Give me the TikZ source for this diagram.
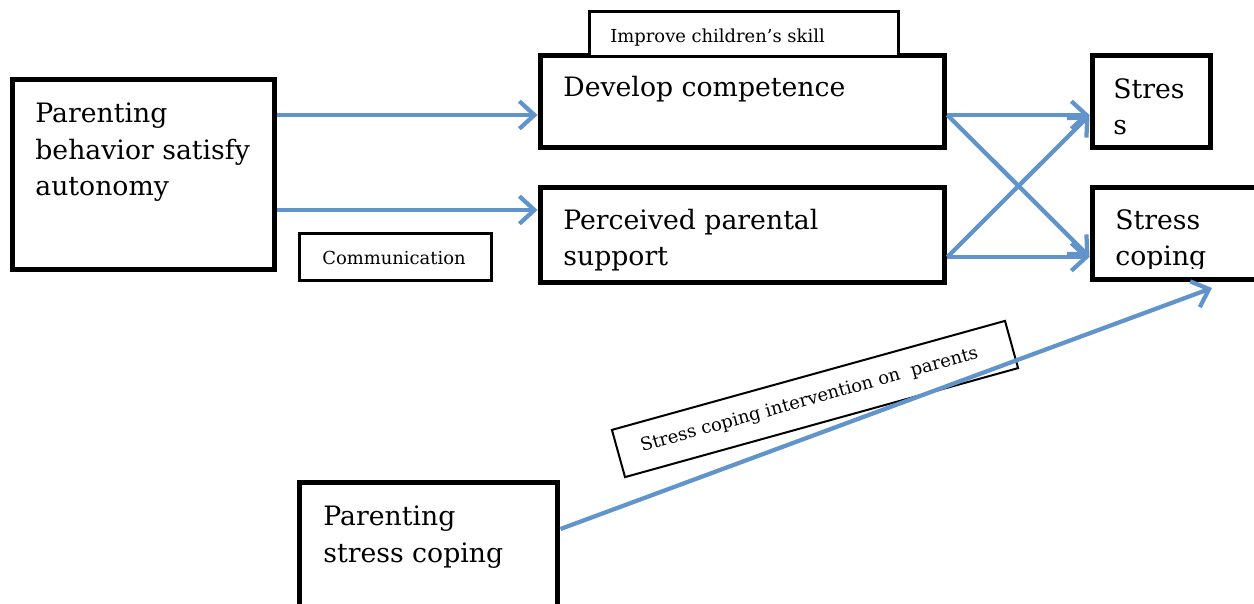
\documentclass[tikz,border=0pt]{standalone}
\usepackage{fontspec}
\setmainfont{DejaVu Serif}
\usetikzlibrary{arrows.meta}
\definecolor{arrowblue}{RGB}{98,148,204}
\newcommand{\bigtxt}{\fontsize{15.2}{21}\selectfont}
\newcommand{\smalltxt}{\fontsize{10.2}{12}\selectfont}

\begin{document}
\begin{tikzpicture}[x=0.02cm,y=-0.02cm,
    box/.style={draw,fill=white,line width=0.1cm,inner sep=0pt},
    thinbox/.style={draw,fill=white,line width=0.06cm,inner sep=0pt},
    bigtext/.style={font=\bigtxt,inner sep=0pt,anchor=base west,align=left},
    smalltext/.style={font=\smalltxt,inner sep=0pt,anchor=base west},
    link/.style={draw=arrowblue,line width=0.085cm,-{Straight Barb[length=0.3cm,width=0.55cm]}}]
    \useasboundingbox (0,0) rectangle (1254,604);

    % boxes
    \node[box,minimum width=5.26cm,minimum height=3.82cm] (par) at (143.5,174.5) {};
    \node[box,minimum width=8.1cm,minimum height=1.86cm] (dev) at (742.5,101.5) {};
    \node[thinbox,minimum width=6.2cm,minimum height=0.9cm] (imp) at (744,34.5) {};
    \node[box,minimum width=8.1cm,minimum height=1.92cm] (per) at (742.5,235) {};
    \node[thinbox,minimum width=3.84cm,minimum height=0.94cm] (com) at (395.5,257) {};
    \node[box,minimum width=2.36cm,minimum height=1.86cm] (stres) at (1151,101.5) {};
    \node[box,minimum width=3.96cm,minimum height=1.86cm] (cope) at (1191,233.5) {};
    \node[box,minimum width=5.18cm,minimum height=2.76cm] (psc) at (428.5,551) {};
    \node[thinbox,line width=0.04cm,minimum width=8.16cm,minimum height=0.98cm,
        rotate=15.5,font=\smalltxt] (interv) at (815,399) {Stress coping intervention on\ \ parents\ \ \ };

    % texts (base = last line)
    \node[bigtext] (partxt) at (35,196) {Parenting\\behavior satisfy\\autonomy};
    \node[bigtext] (devtxt) at (563,97) {Develop competence};
    \node[smalltext] (imptxt) at (610,43) {Improve children’s skill};
    \node[bigtext] (pertxt) at (563,266) {Perceived parental\\support};
    \node[smalltext] (comtxt) at (322,265) {Communication};
    \node[bigtext] (strestxt) at (1113,135) {Stres\\s};
    \begin{scope}
        \clip (1090,185) rectangle (1254,269);
        \node[bigtext] (copetxt) at (1115,266) {Stress\\coping};
    \end{scope}
    \node[bigtext] (psctxt) at (323,562) {Parenting\\stress coping};

    % arrows
    \coordinate (r1) at (0,115);
    \coordinate (r2) at (0,210);
    \coordinate (r4) at (0,257);
    \coordinate (r5) at (0,529);
    \coordinate (tipc) at (1212,288);
    \draw[link] (par.east |- r1) -- (dev.west |- r1);
    \draw[link] (par.east |- r2) -- (per.west |- r2);
    \draw[link] (dev.east |- r1) -- (stres.west |- r1);
    \draw[link] (dev.east |- r1) -- (cope.west |- r4);
    \draw[link] (per.east |- r4) -- (stres.west |- r1);
    \draw[link] (per.east |- r4) -- (cope.west |- r4);
    \draw[link] (psc.east |- r5) -- (tipc);
\end{tikzpicture}
\end{document}
